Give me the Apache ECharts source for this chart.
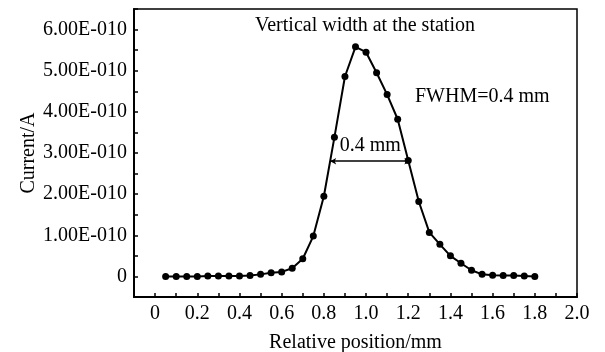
<!DOCTYPE html>
<html>
<head>
<meta charset="utf-8">
<script src="https://cdn.jsdelivr.net/npm/echarts@6/dist/echarts.min.js"></script>
<style>
  html, body { margin: 0; padding: 0; background: #fff; }
  #chart { width: 605px; height: 352px; }
</style>
</head>
<body>
<div id="chart"></div>
<script>
// relative position (mm)
const position = [
  0.05, 0.10, 0.15, 0.20, 0.25, 0.30, 0.35, 0.40, 0.45, 0.50,
  0.55, 0.60, 0.65, 0.70, 0.75, 0.80, 0.85, 0.90, 0.95, 1.00,
  1.05, 1.10, 1.15, 1.20, 1.25, 1.30, 1.35, 1.40, 1.45, 1.50,
  1.55, 1.60, 1.65, 1.70, 1.75, 1.80
];
// current (A)
const current = [
  0.00e-10, 0.00e-10, 0.00e-10, 0.00e-10, 0.01e-10, 0.01e-10, 0.01e-10, 0.01e-10, 0.02e-10, 0.05e-10,
  0.09e-10, 0.11e-10, 0.20e-10, 0.43e-10, 0.98e-10, 1.95e-10, 3.38e-10, 4.86e-10, 5.58e-10, 5.45e-10,
  4.95e-10, 4.42e-10, 3.82e-10, 2.82e-10, 1.82e-10, 1.07e-10, 0.78e-10, 0.50e-10, 0.32e-10, 0.15e-10,
  0.05e-10, 0.03e-10, 0.02e-10, 0.02e-10, 0.01e-10, 0.00e-10
];
// FWHM marker: two ends at half maximum
const fwhmX = [0.83, 1.21];
const fwhmY = 2.80e-10;

const titleText = 'Vertical width at the station';
const fwhmText = 'FWHM=0.4 mm';
const widthText = '0.4 mm';

const FONT = '"Liberation Serif", "Times New Roman", serif';
const FS = 20;

const myChart = echarts.init(document.getElementById('chart'));

// label only every whole 1e-10 step
const fmtY = (v) => {
  const k = Math.round(v / 0.5e-10);
  if (k < 0 || k % 2 !== 0 || k > 12) return '';
  if (k === 0) return '0';
  return (k / 2).toFixed(2) + 'E-010';
};
// label only every 0.2 mm
const fmtX = (v) => {
  const k = Math.round(v * 10);
  if (k < 0 || k % 2 !== 0) return '';
  if (k === 0) return '0';
  return (k / 10).toFixed(1);
};

myChart.setOption({
  animation: false,
  backgroundColor: '#fff',
  textStyle: { fontFamily: FONT },
  grid: {
    left: 134, right: 28, top: 9, bottom: 55,
    outerBoundsMode: 'none',
    containLabel: false,
    show: true,
    borderColor: '#000',
    borderWidth: 1.5,
    backgroundColor: 'transparent'
  },
  graphic: [
    {
      type: 'text', left: 255, top: 16,
      style: { text: titleText, font: FS + 'px ' + FONT, fill: '#000' }
    },
    {
      type: 'text', left: 415, top: 87,
      style: { text: fwhmText, font: FS + 'px ' + FONT, fill: '#000' }
    }
  ],
  xAxis: {
    type: 'value',
    min: -0.1,
    max: 2.0,
    interval: 0.1,
    name: 'Relative position/mm',
    nameLocation: 'middle',
    nameGap: 36,
    nameMoveOverlap: false,
    nameTextStyle: { fontSize: FS, color: '#000', fontFamily: FONT },
    axisLine: { show: true, onZero: false, lineStyle: { color: '#000', width: 2 } },
    axisTick: { show: true, inside: true, length: 4, lineStyle: { color: '#000', width: 1.5 } },
    splitLine: { show: false },
    axisLabel: {
      formatter: fmtX, margin: 7, fontSize: FS, color: '#000', fontFamily: FONT,
      showMinLabel: true, showMaxLabel: true
    }
  },
  yAxis: {
    type: 'value',
    min: -0.5e-10,
    max: 6.5e-10,
    interval: 0.5e-10,
    name: 'Current/A',
    nameLocation: 'middle',
    nameGap: 95,
    nameRotate: 90,
    nameMoveOverlap: false,
    nameTextStyle: { fontSize: FS, color: '#000', fontFamily: FONT },
    axisLine: { show: true, onZero: false, lineStyle: { color: '#000', width: 2 } },
    axisTick: { show: true, inside: true, length: 4, lineStyle: { color: '#000', width: 1.5 } },
    splitLine: { show: false },
    axisLabel: {
      formatter: fmtY, margin: 7, fontSize: FS, color: '#000', fontFamily: FONT,
      showMinLabel: true, showMaxLabel: true
    }
  },
  series: [
    {
      type: 'line',
      data: position.map((x, i) => [x, current[i]]),
      symbol: 'circle',
      symbolSize: 7,
      showAllSymbol: true,
      lineStyle: { color: '#000', width: 2 },
      itemStyle: { color: '#000' },
      markLine: {
        silent: true,
        symbol: ['arrow', 'arrow'],
        symbolSize: [5, 6],
        lineStyle: { color: '#000', width: 1.5, type: 'solid' },
        label: {
          show: true,
          position: 'middle',
          formatter: widthText,
          distance: 5,
          fontSize: FS,
          color: '#000',
          fontFamily: FONT
        },
        data: [[{ coord: [fwhmX[0], fwhmY] }, { coord: [fwhmX[1], fwhmY] }]]
      }
    }
  ]
});
</script>
</body>
</html>
